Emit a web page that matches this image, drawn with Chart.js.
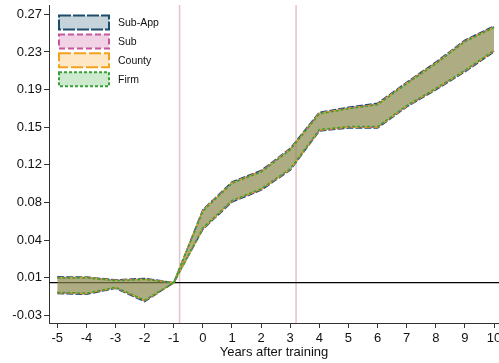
<!DOCTYPE html>
<html>
<head>
<meta charset="utf-8">
<script src="https://cdn.jsdelivr.net/npm/chart.js@4/dist/chart.umd.min.js"></script>
<style>
  html, body { margin: 0; padding: 0; background: #fff; overflow: hidden; }
  canvas { display: block; }
</style>
</head>
<body>
<canvas id="c" width="499" height="363"></canvas>
<script>
// Event-study confidence bands by comparison group
const years = [-5, -4, -3, -2, -1, 0, 1, 2, 3, 4, 5, 6, 7, 8, 9, 10];

const subAppUpper = [0.0058, 0.0056, 0.0028, 0.0042, 0, 0.0728, 0.1004, 0.1118, 0.1338, 0.1698, 0.1748, 0.1788, 0.1998, 0.2198, 0.2418, 0.2558];
const subAppLower = [-0.0108, -0.0116, -0.0056, -0.0188, 0, 0.0532, 0.0804, 0.0922, 0.1122, 0.1512, 0.1542, 0.1542, 0.1752, 0.1922, 0.2102, 0.2302];
const subUpper    = [0.0050, 0.0050, 0.0023, 0.0035, 0, 0.0720, 0.0997, 0.1110, 0.1330, 0.1690, 0.1740, 0.1780, 0.1990, 0.2190, 0.2410, 0.2550];
const subLower    = [-0.0100, -0.0110, -0.0050, -0.0180, 0, 0.0540, 0.0813, 0.0930, 0.1130, 0.1520, 0.1550, 0.1550, 0.1760, 0.1930, 0.2110, 0.2310];
const countyUpper = [0.0048, 0.0052, 0.0021, 0.0033, 0, 0.0716, 0.0994, 0.1106, 0.1327, 0.1686, 0.1737, 0.1777, 0.1987, 0.2186, 0.2406, 0.2547];
const countyLower = [-0.0098, -0.0107, -0.0048, -0.0176, 0, 0.0543, 0.0816, 0.0933, 0.1133, 0.1523, 0.1553, 0.1553, 0.1763, 0.1933, 0.2113, 0.2313];
const firmUpper   = [0.0046, 0.0049, 0.0020, 0.0032, 0, 0.0713, 0.0991, 0.1103, 0.1324, 0.1683, 0.1734, 0.1774, 0.1984, 0.2183, 0.2403, 0.2544];
const firmLower   = [-0.0096, -0.0105, -0.0046, -0.0174, 0, 0.0546, 0.0819, 0.0936, 0.1136, 0.1526, 0.1556, 0.1556, 0.1766, 0.1936, 0.2116, 0.2316];

const seriesNames = ['Sub-App', 'Sub', 'County', 'Firm'];

const yTickValues = [-0.0325, 0.005, 0.0425, 0.08, 0.1175, 0.155, 0.1925, 0.23, 0.2675];
const yTickLabels = ['-0.03', '0.01', '0.04', '0.08', '0.12', '0.15', '0.19', '0.23', '0.27'];
const xTickValues = years;

const eventLines = [-0.8, 3.2];
const baselineY = 0;

// styling
const bandData = [[subAppUpper, subAppLower], [subUpper, subLower], [countyUpper, countyLower], [firmUpper, firmLower]];
const lineColors = ['#1c4d6b', '#c6579a', '#f3a21f', '#3a9f3a'];
const fillColors = ['rgba(30,80,110,0.25)', 'rgba(200,80,150,0.25)', 'rgba(250,160,20,0.25)', 'rgba(60,170,60,0.25)'];
const dashes = [[7, 2], [5, 3], [8, 3], [3, 2]];
const legendDashes = [[12, 2], [6, 3], [12, 3], [3, 2]];
const FONT = "'Liberation Sans', Arial, sans-serif";
const INK = '#111';
const AXIS = '#333';

const toPoints = arr => years.map((x, i) => ({ x: x, y: arr[i] }));

// Datasets are painted last-to-first, so Firm goes first to sit on top.
const datasets = [];
[3, 2, 1, 0].forEach(s => {
  const upperIdx = datasets.length;
  const common = {
    borderColor: lineColors[s],
    borderWidth: 1.5,
    borderDash: dashes[s],
    pointRadius: 0,
    tension: 0,
    seriesIndex: s
  };
  datasets.push(Object.assign({}, common, {
    label: seriesNames[s],
    data: toPoints(bandData[s][0]),
    backgroundColor: fillColors[s],
    fill: upperIdx + 1
  }));
  datasets.push(Object.assign({}, common, {
    label: seriesNames[s] + ' (lower)',
    data: toPoints(bandData[s][1]),
    fill: false
  }));
});

// reference lines under the bands
const guides = {
  id: 'guides',
  beforeDatasetsDraw(chart) {
    const { ctx, chartArea: a, scales: { x, y } } = chart;
    ctx.save();
    ctx.beginPath();
    ctx.rect(a.left, a.top, a.right - a.left, a.bottom - a.top);
    ctx.clip();
    ctx.strokeStyle = '#e3c3c7';
    ctx.lineWidth = 1.5;
    eventLines.forEach(v => {
      const px = x.getPixelForValue(v);
      ctx.beginPath();
      ctx.moveTo(px, a.top);
      ctx.lineTo(px, a.bottom);
      ctx.stroke();
    });
    ctx.strokeStyle = '#000';
    ctx.lineWidth = 1.2;
    const py = y.getPixelForValue(baselineY);
    ctx.beginPath();
    ctx.moveTo(a.left, py);
    ctx.lineTo(a.right, py);
    ctx.stroke();
    ctx.restore();
  }
};

// legend boxes in the upper-left of the plot
const bandLegend = {
  id: 'bandLegend',
  afterDatasetsDraw(chart) {
    const { ctx, chartArea: a } = chart;
    ctx.save();
    ctx.font = '10.5px ' + FONT;
    ctx.textBaseline = 'middle';
    seriesNames.forEach((name, s) => {
      const bx = a.left + 10, by = a.top + 10.5 + s * 18.9, bw = 50, bh = 14;
      ctx.fillStyle = '#fff';
      ctx.fillRect(bx, by, bw, bh);
      ctx.fillStyle = fillColors[s];
      ctx.fillRect(bx, by, bw, bh);
      ctx.setLineDash(legendDashes[s]);
      ctx.strokeStyle = lineColors[s];
      ctx.lineWidth = 2;
      ctx.strokeRect(bx, by, bw, bh);
      ctx.setLineDash([]);
      ctx.fillStyle = INK;
      ctx.textAlign = 'left';
      ctx.fillText(name, bx + 59, by + bh / 2 + 0.5);
    });
    ctx.restore();
  }
};

new Chart(document.getElementById('c'), {
  type: 'line',
  data: { datasets: datasets },
  plugins: [guides, bandLegend],
  options: {
    responsive: false,
    animation: false,
    layout: { padding: { top: 5, right: 0, bottom: 0, left: 0 } },
    plugins: {
      legend: { display: false },
      tooltip: { enabled: false },
      filler: { propagate: false }
    },
    scales: {
      x: {
        type: 'linear',
        min: -5.285,
        max: 10.17,
        afterBuildTicks: s => { s.ticks = xTickValues.map(v => ({ value: v })); },
        afterFit: s => { s.height = 40; s.paddingLeft = 0; s.paddingRight = 0; },
        ticks: {
          autoSkip: false, maxRotation: 0, padding: 3,
          font: { family: FONT, size: 13 }, color: INK,
          callback: v => String(v)
        },
        grid: { display: true, drawOnChartArea: false, drawTicks: true, tickLength: 5, color: AXIS, lineWidth: 1 },
        border: { display: true, color: AXIS, width: 1 },
        title: {
          display: true, text: 'Years after training',
          font: { family: FONT, size: 13 }, color: INK,
          padding: { top: 0, bottom: 2.5 }
        }
      },
      y: {
        type: 'linear',
        min: -0.0402,
        max: 0.2768,
        afterBuildTicks: s => { s.ticks = yTickValues.map(v => ({ value: v })); },
        afterFit: s => { s.width = 49; s.paddingTop = 0; s.paddingBottom = 0; },
        ticks: {
          autoSkip: false, padding: 2,
          font: { family: FONT, size: 13 }, color: INK,
          callback: (v, i) => yTickLabels[i]
        },
        grid: { display: true, drawOnChartArea: false, drawTicks: true, tickLength: 5, color: AXIS, lineWidth: 1 },
        border: { display: true, color: AXIS, width: 1 }
      }
    }
  }
});
</script>
</body>
</html>
